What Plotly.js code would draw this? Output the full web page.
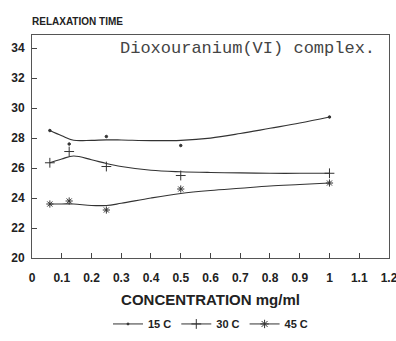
<!DOCTYPE html>
<html><head><meta charset="utf-8">
<script src="https://cdn.plot.ly/plotly-3.0.1.min.js"></script>
<style>body{margin:0;background:#fff}#c{width:396px;height:341px}</style>
</head><body><div id="c"></div>
<script>
// measured data points
const concX = [0.06, 0.125, 0.25, 0.5, 1.0];
const t15 = [28.5, 27.6, 28.1, 27.5, 29.4];
const t30 = [26.35, 27.1, 26.1, 25.5, 25.65];
const t45 = [23.6, 23.8, 23.2, 24.6, 25.0];
// fitted curves as drawn
const fitX = [0.06, 0.1, 0.14, 0.2, 0.25, 0.3, 0.4, 0.5, 0.6, 0.7, 0.8, 0.9, 1.0];
const fit15 = [28.5, 28.15, 27.85, 27.85, 27.88, 27.87, 27.83, 27.85, 28.0, 28.3, 28.65, 29.0, 29.4];
const fit30 = [26.35, 26.6, 26.8, 26.55, 26.3, 26.1, 25.85, 25.75, 25.7, 25.67, 25.65, 25.65, 25.65];
const fit45 = [23.6, 23.6, 23.6, 23.5, 23.5, 23.65, 24.0, 24.3, 24.5, 24.65, 24.8, 24.9, 25.0];
const seriesNames = ['15 C', '30 C', '45 C'];
const symbols = ['circle', 'cross-thin-open', 'asterisk-open'];
const xTicks = [0,0.1,0.2,0.3,0.4,0.5,0.6,0.7,0.8,0.9,1,1.1,1.2];
const xTickText = ['0','0.1','0.2','0.3','0.4','0.5','0.6','0.7','0.8','0.9','1','1.1','1.2'];
const yTicks = [20,22,24,26,28,30,32,34];

const col = '#333';
const fits = [fit15, fit30, fit45];
const pts = [t15, t30, t45];
const sizes = [2.5, 7, 6];
const traces = [];
for (let i = 0; i < 3; i++) {
  traces.push({x: fitX, y: fits[i], mode: 'lines', line: {color: col, width: 1.2, shape: 'spline'}, showlegend: false, hoverinfo: 'skip'});
  traces.push({x: concX, y: pts[i], mode: 'markers', showlegend: false,
    marker: {symbol: symbols[i], size: sizes[i], color: col, line: {color: col, width: 1}}});
  traces.push({x: [null], y: [null], name: seriesNames[i], mode: 'lines+markers',
    line: {color: col, width: 1}, marker: {symbol: symbols[i], size: i === 0 ? 2 : 7, color: col, line: {color: col, width: 1}}});
}
const fam = '"Liberation Sans Narrow", "Liberation Sans", Arial';
Plotly.newPlot('c', traces, {
  width: 396, height: 341,
  margin: {l: 32, r: 7, t: 35, b: 83},
  paper_bgcolor: '#fff', plot_bgcolor: '#fff',
  font: {family: fam, size: 11, color: '#222'},
  xaxis: {range: [0, 1.2001], tickvals: xTicks, ticktext: xTickText, ticks: 'inside', ticklen: 5, tickcolor: '#444',
    showgrid: false, zeroline: false, showline: true, linecolor: '#555', linewidth: 1, mirror: true,
    automargin: false, ticklabeloverflow: 'allow', ticklabelstandoff: 9,
    tickfont: {family: fam, size: 12, color: '#222', weight: 'bold'},
    title: {text: 'CONCENTRATION mg/ml', font: {family: fam, size: 15, color: '#222', weight: 'bold'}, standoff: 10}},
  yaxis: {range: [20, 34.87], tickvals: yTicks, ticks: 'inside', ticklen: 5, tickcolor: '#444',
    showgrid: false, zeroline: false, showline: true, linecolor: '#555', linewidth: 1, mirror: true,
    automargin: false, ticklabelstandoff: 4,
    tickfont: {family: fam, size: 12, color: '#222', weight: 'bold'}},
  legend: {orientation: 'h', x: 0.5, xanchor: 'center', yref: 'container', y: 0.05, yanchor: 'middle',
    font: {family: fam, size: 11, color: '#222', weight: 'bold'}, itemwidth: 30, tracegroupgap: 0},
  annotations: [
    {text: 'RELAXATION TIME', xref: 'paper', yref: 'paper', x: -0.005, y: 1.025, xanchor: 'left', yanchor: 'bottom', showarrow: false,
      font: {family: fam, size: 10, color: '#222', weight: 'bold'}},
    {text: 'Dioxouranium(VI) complex.', xref: 'paper', yref: 'paper', x: 0.965, y: 0.94, xanchor: 'right', yanchor: 'middle', showarrow: false,
      font: {family: '"Liberation Mono", "Courier New", monospace', size: 17, color: '#444'}}
  ]
}, {displayModeBar: false, staticPlot: true});
</script></body></html>
